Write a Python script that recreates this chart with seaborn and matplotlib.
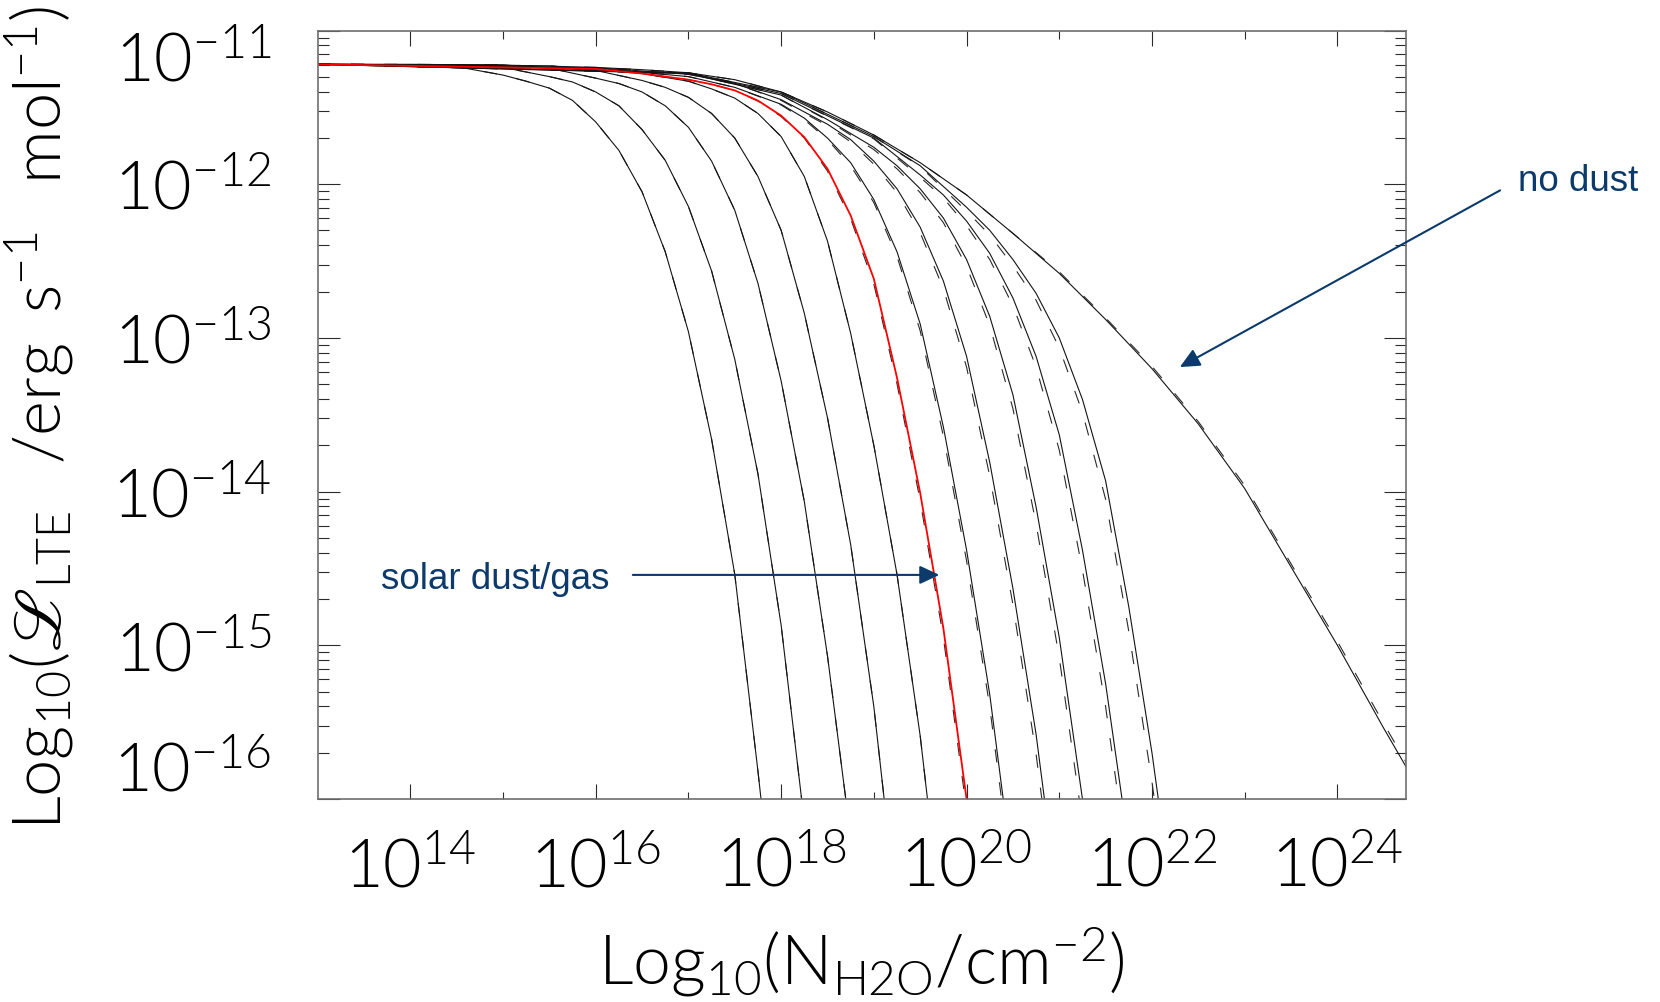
import matplotlib
matplotlib.use("Agg")
import matplotlib.pyplot as plt
import matplotlib.ticker as mticker
from matplotlib.transforms import ScaledTranslation
import numpy as np
import pandas as pd
import seaborn as sns

# ---------------------------------------------------------------------------
# LTE water luminosity per molecule vs. water column density.
# log10(N_H2O / cm^-2) sample points and log10(L_LTE / erg s^-1 mol^-1)
# for a sequence of dust/gas ratios (dust0 = most dusty ... dust10 = least),
# the solar dust/gas case, and the dust-free limit.
# ---------------------------------------------------------------------------
dust0_logn = [13.0, 14.0, 14.5, 15.0, 15.25, 15.5, 15.75, 16.0, 16.25, 16.5, 16.75, 17.0, 17.25, 17.5, 17.75, 18.0]
dust0_logl = [-11.22, -11.222, -11.235, -11.29, -11.33, -11.375, -11.455, -11.595, -11.78, -12.05, -12.44, -12.96, -13.66, -14.54, -15.82, -17.2]

dust1_logn = [13.0, 14.5, 15.0, 15.5, 15.75, 16.0, 16.25, 16.5, 16.75, 17.0, 17.25, 17.5, 17.75, 18.0, 18.25]
dust1_logl = [-11.22, -11.225, -11.24, -11.30, -11.335, -11.40, -11.49, -11.645, -11.845, -12.145, -12.565, -13.14, -13.885, -14.87, -16.15]

dust2_logn = [13.0, 15.0, 15.5, 16.0, 16.25, 16.5, 16.75, 17.0, 17.25, 17.5, 17.75, 18.0, 18.25, 18.5, 18.75]
dust2_logl = [-11.22, -11.225, -11.245, -11.31, -11.345, -11.40, -11.49, -11.63, -11.85, -12.17, -12.645, -13.28, -14.065, -15.07, -16.25]

dust3_logn = [13.0, 15.0, 16.0, 16.5, 16.75, 17.0, 17.25, 17.5, 17.75, 18.0, 18.25, 18.5, 18.75, 19.0, 19.25]
dust3_logl = [-11.22, -11.225, -11.26, -11.325, -11.37, -11.435, -11.54, -11.70, -11.95, -12.30, -12.84, -13.52, -14.345, -15.40, -16.75]

dust4_logn = [13.0, 15.5, 16.5, 17.0, 17.25, 17.5, 17.75, 18.0, 18.25, 18.5, 18.75, 19.0, 19.25, 19.5, 19.75]
dust4_logl = [-11.22, -11.23, -11.28, -11.33, -11.38, -11.44, -11.54, -11.69, -11.95, -12.37, -12.97, -13.70, -14.54, -15.59, -16.9]

solar_logn = [13.0, 16.0, 16.5, 17.0, 17.25, 17.5, 17.75, 18.0, 18.25, 18.5, 18.75, 19.0, 19.25, 19.5, 19.75, 20.0, 20.25]
solar_logl = [-11.22, -11.25, -11.28, -11.32, -11.35, -11.39, -11.456, -11.554, -11.694, -11.90, -12.204, -12.616, -13.26, -14.01, -14.89, -16.0, -17.3]
solar_logl_alt = [-11.22, -11.25, -11.28, -11.32, -11.35, -11.39, -11.46, -11.56, -11.70, -11.915, -12.225, -12.65, -13.30, -14.06, -14.95, -16.07, -17.37]

dust6_logn = [13.0, 16.0, 17.0, 17.5, 18.0, 18.25, 18.5, 18.75, 19.0, 19.25, 19.5, 19.75, 20.0, 20.25, 20.5]
dust6_logl = [-11.22, -11.245, -11.30, -11.37, -11.48, -11.57, -11.70, -11.86, -12.10, -12.44, -12.91, -13.58, -14.38, -15.32, -16.49]
dust6_logl_alt = [-11.22, -11.245, -11.30, -11.37, -11.485, -11.58, -11.71, -11.88, -12.12, -12.47, -12.955, -13.64, -14.45, -15.40, -16.58]

dust7_logn = [13.0, 16.0, 17.0, 17.5, 18.0, 18.5, 18.75, 19.0, 19.25, 19.5, 19.75, 20.0, 20.25, 20.5, 20.75, 21.0]
dust7_logl = [-11.22, -11.242, -11.285, -11.345, -11.45, -11.61, -11.71, -11.85, -12.03, -12.28, -12.63, -13.12, -13.81, -14.63, -15.58, -16.75]
dust7_logl_alt = [-11.22, -11.242, -11.285, -11.345, -11.455, -11.62, -11.725, -11.87, -12.055, -12.316, -12.68, -13.19, -13.90, -14.735, -15.71, -16.88]

dust8_logn = [13.0, 17.0, 18.0, 18.5, 19.0, 19.25, 19.5, 19.75, 20.0, 20.25, 20.5, 20.75, 21.0, 21.25, 21.5]
dust8_logl = [-11.22, -11.28, -11.42, -11.58, -11.76, -11.88, -12.03, -12.22, -12.49, -12.86, -13.37, -14.10, -14.95, -16.0, -17.2]
dust8_logl_alt = [-11.22, -11.28, -11.42, -11.585, -11.775, -11.90, -12.055, -12.25, -12.535, -12.92, -13.46, -14.21, -15.08, -16.15, -17.35]

dust9_logn = [13.0, 17.0, 18.0, 19.0, 19.5, 19.75, 20.0, 20.25, 20.5, 20.75, 21.0, 21.25, 21.5, 21.75]
dust9_logl = [-11.22, -11.278, -11.41, -11.70, -11.94, -12.07, -12.24, -12.45, -12.74, -13.12, -13.63, -14.38, -15.25, -16.31]
dust9_logl_alt = [-11.22, -11.278, -11.41, -11.705, -11.955, -12.09, -12.27, -12.49, -12.79, -13.19, -13.73, -14.51, -15.40, -16.48]

dust10_logn = [13.0, 17.0, 18.0, 19.0, 19.5, 20.0, 20.25, 20.5, 20.75, 21.0, 21.25, 21.5, 21.75, 22.0, 22.25]
dust10_logl = [-11.22, -11.276, -11.40, -11.69, -11.88, -12.15, -12.30, -12.49, -12.71, -13.00, -13.40, -13.93, -14.75, -15.70, -16.8]
dust10_logl_alt = [-11.22, -11.276, -11.40, -11.69, -11.885, -12.175, -12.33, -12.53, -12.755, -13.065, -13.485, -14.05, -14.91, -15.89, -17.0]

nodust_logn = [13.0, 14.0, 15.0, 16.0, 16.5, 17.0, 17.5, 18.0, 18.5, 19.0, 19.5, 20.0, 20.5, 21.0, 21.5, 22.0, 22.5, 23.0, 23.5, 24.0, 24.5, 24.75]
nodust_logl = [-11.22, -11.22, -11.225, -11.24, -11.255, -11.275, -11.32, -11.40, -11.53, -11.68, -11.86, -12.07, -12.32, -12.58, -12.88, -13.20, -13.56, -13.98, -14.49, -15.0, -15.54, -15.80]
nodust_logl_alt = [-11.22, -11.22, -11.225, -11.24, -11.255, -11.275, -11.32, -11.40, -11.53, -11.68, -11.86, -12.07, -12.32, -12.57, -12.87, -13.185, -13.545, -13.96, -14.47, -14.975, -15.51, -15.77]

x_major_exp = [14, 16, 18, 20, 22, 24]
x_minor_exp = [15, 17, 19, 21, 23]
y_major_exp = [-16, -15, -14, -13, -12, -11]

# ---------------------------------------------------------------------------
sns.set_theme(style="ticks")
plt.rcParams.update({
    "font.family": ["Lato", "DejaVu Sans"],
    "font.weight": 300,
    "mathtext.fontset": "custom",
    "mathtext.rm": "Lato:weight=300",
    "mathtext.it": "Lato:weight=300",
    "mathtext.bf": "Lato:weight=300",
    "mathtext.sf": "Lato:weight=300",
    "mathtext.fallback": "stix",
    "axes.edgecolor": "#6e6e6e",
    "axes.linewidth": 1.2,
})

INK = "#141414"
TXT = "#000000"
NAVY = "#0b3a6b"
DASH = (0, (12, 18))

fig = plt.figure(figsize=(16.6, 10.03), dpi=100)
ax = fig.add_axes([0.19133, 0.20239, 0.65566, 0.76620])
ax.set_xscale("log")
ax.set_yscale("log")


def frame(logn, logl):
    return pd.DataFrame({"N": 10.0 ** np.asarray(logn), "L": 10.0 ** np.asarray(logl)})


def draw(logn, logl, color, lw, ls):
    sns.lineplot(data=frame(logn, logl), x="N", y="L", ax=ax, color=color,
                 lw=lw, linestyle=ls, estimator=None, sort=False, legend=False)


# dashed companions of each model track
dashed_sets = [
    (dust0_logn, dust0_logl), (dust1_logn, dust1_logl), (dust2_logn, dust2_logl),
    (dust3_logn, dust3_logl), (dust4_logn, dust4_logl), (solar_logn, solar_logl_alt),
    (dust6_logn, dust6_logl_alt), (dust7_logn, dust7_logl_alt), (dust8_logn, dust8_logl_alt),
    (dust9_logn, dust9_logl_alt), (dust10_logn, dust10_logl_alt), (nodust_logn, nodust_logl_alt),
]
for logn, logl in dashed_sets:
    draw(logn, logl, "#2a2a2a", 0.8, DASH)

# solid tracks
solid_sets = [
    (dust0_logn, dust0_logl), (dust1_logn, dust1_logl), (dust2_logn, dust2_logl),
    (dust3_logn, dust3_logl), (dust4_logn, dust4_logl),
    (dust6_logn, dust6_logl), (dust7_logn, dust7_logl), (dust8_logn, dust8_logl),
    (dust9_logn, dust9_logl), (dust10_logn, dust10_logl), (nodust_logn, nodust_logl),
]
for logn, logl in solid_sets:
    draw(logn, logl, INK, 0.8, "-")

# solar dust/gas ratio highlighted
draw(solar_logn, solar_logl, "#ff0000", 1.3, "-")

# axes ranges and ticks
ax.set_xlim(1e13, 10 ** 24.74)
ax.set_ylim(1e-16, 1e-11)
ax.xaxis.set_major_locator(mticker.FixedLocator([10.0 ** e for e in x_major_exp]))
ax.xaxis.set_minor_locator(mticker.FixedLocator([10.0 ** e for e in x_minor_exp]))
ax.yaxis.set_major_locator(mticker.FixedLocator([10.0 ** e for e in y_major_exp]))
ax.yaxis.set_minor_locator(mticker.LogLocator(base=10, subs=np.arange(2, 10), numticks=30))

pow_fmt = mticker.FuncFormatter(lambda v, pos: r"$\mathregular{10^{%d}}$" % int(round(np.log10(v))))
ax.xaxis.set_major_formatter(pow_fmt)
ax.yaxis.set_major_formatter(pow_fmt)
ax.xaxis.set_minor_formatter(mticker.NullFormatter())
ax.yaxis.set_minor_formatter(mticker.NullFormatter())

ax.tick_params(axis="both", which="both", direction="in", top=True, right=True,
               color="#2b2b2b", width=0.8, labelcolor=TXT, labelsize=48)
ax.tick_params(axis="x", which="major", length=10.8, pad=27)
ax.tick_params(axis="x", which="minor", length=5.4)
ax.tick_params(axis="y", which="major", length=15.8, pad=33)
ax.tick_params(axis="y", which="minor", length=7.9)

ax.set_xlabel(r"$\mathregular{Log_{10}(N_{H2O}/cm^{-2})}$", fontsize=49, color=TXT, fontweight=300)
ax.set_ylabel(r"$\mathregular{Log_{10}(ℒ_{LTE}\;\;\;/erg\;\;s^{-1}\;\;\;mol^{-1})}$",
              fontsize=48, color=TXT, fontweight=300)
ax.xaxis.set_label_coords(0.5, -0.162)
ax.yaxis.set_label_coords(-0.222, 0.497)

# keep the end labels of the y axis inside the frame
fig.canvas.draw()
yt = ax.yaxis.get_major_ticks()
yt[0].label1.set_transform(yt[0].label1.get_transform() + ScaledTranslation(0, 24 / 72, fig.dpi_scale_trans))
yt[-1].label1.set_transform(yt[-1].label1.get_transform() + ScaledTranslation(0, -18 / 72, fig.dpi_scale_trans))

# annotations
arrow_kw = dict(arrowstyle="-|>,head_length=0.6,head_width=0.28", color=NAVY, lw=1.5,
                shrinkA=0, shrinkB=0, mutation_scale=20)
ax.annotate("", xy=(10 ** 22.30, 10 ** -13.19), xytext=(10 ** 25.755, 10 ** -12.04),
            arrowprops=arrow_kw, annotation_clip=False)
ax.text(10 ** 25.944, 10 ** -12.035, "no dust", color=NAVY, fontsize=26.5,
        family=["Liberation Sans", "DejaVu Sans"], fontweight="normal",
        ha="left", va="baseline", clip_on=False)

ax.annotate("", xy=(10 ** 19.707, 10 ** -14.542), xytext=(10 ** 16.40, 10 ** -14.542),
            arrowprops=arrow_kw, annotation_clip=False)
ax.text(10 ** 13.683, 10 ** -14.629, "solar dust/gas", color=NAVY, fontsize=26.5,
        family=["Liberation Sans", "DejaVu Sans"], fontweight="normal",
        ha="left", va="baseline")

fig.savefig("out.png", dpi=100, facecolor="white")
